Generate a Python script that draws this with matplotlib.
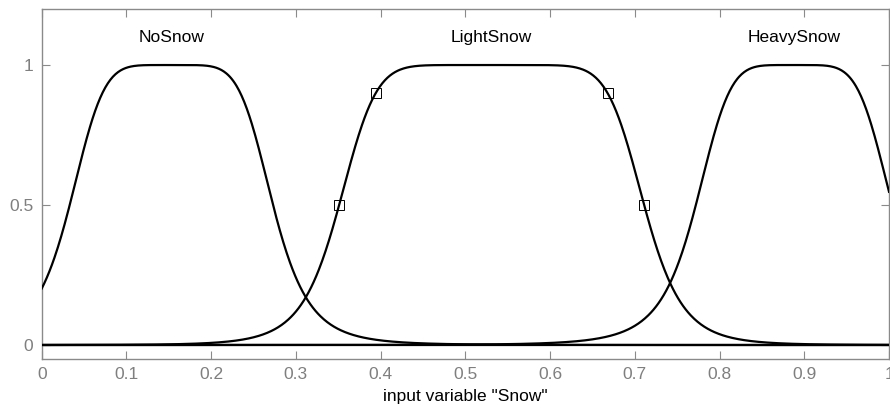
import numpy as np
import matplotlib
matplotlib.use("Agg")
import matplotlib.pyplot as plt

plt.rcParams['font.family'] = ['Liberation Sans', 'DejaVu Sans']

# Membership functions of the input variable "Snow" (generalized bell: a, b, c)
mf_names = ["NoSnow", "LightSnow", "HeavySnow"]
mf_a = [0.120, 0.180, 0.116]
mf_b = [2.83, 4.0, 2.7]
mf_c = [0.153, 0.531, 0.888]
selected_mf = 1          # the MF whose handles are shown
handle_levels = [0.5, 0.9]

x_ticks = [0, 0.1, 0.2, 0.3, 0.4, 0.5, 0.6, 0.7, 0.8, 0.9, 1]
x_tick_labels = ["0", "0.1", "0.2", "0.3", "0.4", "0.5", "0.6", "0.7", "0.8", "0.9", "1"]
y_ticks = [0, 0.5, 1]
y_tick_labels = ["0", "0.5", "1"]
x_label = 'input variable "Snow"'


def gbellmf(x, a, b, c):
    return 1.0 / (1.0 + np.abs((x - c) / a) ** (2 * b))


fig = plt.figure(figsize=(8.9, 4.11), dpi=100)
ax = fig.add_axes([0.0469, 0.1265, 0.952, 0.8515])

x = np.linspace(0, 1, 1001)
ax.plot([0, 1], [0, 0], color='black', lw=1.6, zorder=2)
for name, a, b, c in zip(mf_names, mf_a, mf_b, mf_c):
    ax.plot(x, gbellmf(x, a, b, c), color='black', lw=1.6, zorder=3)
    ax.text(c, 1.10, name, ha='center', va='center', fontsize=12.5, color='black')

# handles of the selected MF at the 0.5 and 0.9 levels
a, b, c = mf_a[selected_mf], mf_b[selected_mf], mf_c[selected_mf]
for lev in handle_levels:
    d = a * ((1 - lev) / lev) ** (1 / (2 * b))
    hx = np.array([c - d, c + d])
    ax.plot(hx, gbellmf(hx, a, b, c), linestyle='none', marker='s', markersize=7,
            markerfacecolor='none', markeredgecolor='black', markeredgewidth=0.7, zorder=4)

ax.set_xlim(0, 1)
ax.set_ylim(-0.05, 1.2)
ax.set_xticks(x_ticks)
ax.set_xticklabels(x_tick_labels)
ax.set_yticks(y_ticks)
ax.set_yticklabels(y_tick_labels)
ax.set_xlabel(x_label, fontsize=12.5, labelpad=5)

grey = '#8a8a8a'
for s in ax.spines.values():
    s.set_color(grey)
    s.set_linewidth(1.0)
ax.tick_params(direction='in', length=6, width=0.8, color=grey, labelcolor='#7f7f7f',
               labelsize=12.5, top=True, right=True, pad=6)

fig.savefig('out.png', dpi=100)
